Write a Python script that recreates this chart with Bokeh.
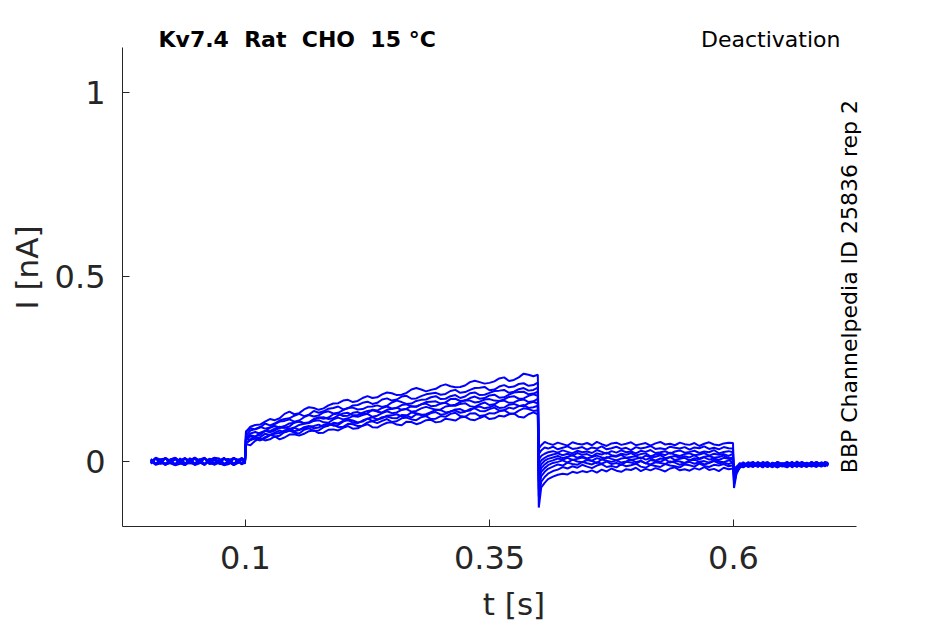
from bokeh.plotting import figure
from bokeh.models import Range1d, FixedTicker, Label, ColumnDataSource
from bokeh.embed import file_html
from bokeh.resources import INLINE

# ---- data: sample times (ms) and ten current sweeps (pA); plotted as s and nA ----
t_ms = ([3, 8, 13, 18, 23, 28, 33, 38, 43, 48, 53, 58, 63, 68, 73, 78, 83, 88, 93, 96, 99.5] +
        [100.5, 105, 110, 115, 120, 125, 130, 135, 140, 145, 150, 155, 160, 165, 170, 175, 180, 185,
         190, 195, 200, 205, 210, 215, 220, 225, 230, 235, 240, 245, 250, 255, 260, 265, 270, 275,
         280, 285, 290, 295, 300, 305, 310, 315, 320, 325, 330, 335, 340, 345, 350, 355, 360, 365,
         370, 375, 380, 385, 390, 395, 399.5] +
        [400.5, 403, 406.5, 410, 415, 420, 425, 430, 435, 440, 445, 450, 455, 460, 465, 470, 475,
         480, 485, 490, 495, 500, 505, 510, 515, 520, 525, 530, 535, 540, 545, 550, 555, 560, 565,
         570, 575, 580, 585, 590, 595, 599.5] +
        [600.5, 603, 606.5, 610, 615, 620, 625, 630, 635, 640, 645, 650, 655, 660, 665, 670, 675,
         680, 685, 690, 694, 697])

sweep_01 = ([4, -9, -5, 10, 2, -7, 8, -5, -3, 11, 0, -9, 6, 3, -2, -10, -7, 9, 4, -5, 0] +
            [47, 44, 56, 63, 57, 60, 68, 60, 65, 73, 74, 70, 75, 82, 84, 77, 78, 86, 87, 84,
             91, 96, 89, 90, 97, 101, 93, 92, 99, 105, 106, 100, 98, 108, 107, 101, 105, 112, 113, 106,
             108, 116, 114, 111, 119, 121, 114, 112, 118, 123, 115, 117, 124, 122, 128, 130, 121, 119, 128, 133,
             128] +
            [-125, -70, -58, -48, -41, -36, -33, -35, -28, -31, -26, -29, -24, -30, -22, -27, -19, -25, -28, -21,
             -23, -17, -26, -20, -24, -18, -22, -27, -19, -16, -24, -21, -25, -18, -22, -15, -23, -20, -26, -17,
             -21, -19] +
            [-20, -14, -9, -2, -12, -5, -15, -1, -8, -13, -3, -10, -6, -14, 0, -9, -4, -12, -2, -7, -11, -3])
sweep_02 = ([-2, 10, 5, -8, -4, 7, 0, -7, 9, -10, -5, 8, 2, -9, -3, 6, 7, -6, -2, 10, 3] +
            [50, 60, 63, 58, 66, 72, 68, 70, 80, 84, 78, 76, 86, 90, 83, 84, 93, 99, 100, 93,
             94, 102, 101, 96, 97, 106, 109, 104, 110, 115, 107, 109, 117, 119, 114, 112, 120, 123, 115, 116,
             123, 121, 129, 132, 123, 121, 130, 131, 123, 125, 131, 130, 136, 139, 131, 129, 138, 144, 142, 137,
             139] +
            [-95, -55, -42, -33, -26, -22, -15, -19, -13, -17, -9, -14, -18, -11, -7, -15, -12, -16, -8, -13,
             -10, -6, -14, -17, -9, -12, -15, -7, -11, -13, -16, -8, -10, -14, -6, -12, -15, -9, -11, -7,
             -13, -10] +
            [-25, -16, -4, -13, -6, -1, -12, -9, -15, -3, -7, -14, -2, -11, -8, -5, -13, -1, -10, -6, -4, -9])
sweep_03 = ([7, -6, 0, 9, -5, -10, 4, 7, -2, -8, 5, 10, -7, -4, 2, 8, 0, -10, -3, 6, 5] +
            [60, 68, 63, 66, 75, 72, 78, 84, 79, 83, 91, 86, 89, 95, 96, 100, 94, 97, 105, 103,
             110, 112, 105, 104, 111, 116, 110, 113, 120, 122, 118, 117, 126, 125, 119, 128, 127, 124, 131, 134,
             127, 129, 136, 138, 132, 135, 142, 144, 137, 136, 142, 146, 138, 139, 146, 143, 150, 153, 145, 147,
             151] +
            [-75, -40, -28, -20, -14, -8, -11, -3, -7, -9, -1, -5, -8, -2, -6, 0, -7, -4, -9, -1,
             -3, -6, 1, -5, -8, -2, -4, -7, 0, -3, -9, -5, -1, -6, -2, -8, -4, 1, -5, -3,
             -7, -2] +
            [-30, -18, -12, -5, -14, -9, -2, -13, -6, -11, -16, -4, -8, -1, -12, -7, -14, -3, -9, -12, -2, -6])
sweep_04 = ([-5, 8, 2, -10, 6, 9, -3, -8, 0, 7, -2, -9, 3, 10, 8, -6, -5, 8, 2, -8, -3] +
            [49, 58, 62, 57, 63, 71, 75, 77, 84, 89, 82, 85, 93, 96, 90, 92, 99, 103, 97, 99,
             108, 114, 111, 106, 108, 116, 120, 114, 117, 124, 125, 128, 122, 124, 133, 131, 126, 128, 134, 140,
             139, 133, 135, 141, 142, 136, 138, 147, 149, 144, 147, 152, 145, 146, 154, 156, 151, 150, 158, 162,
             157] +
            [-55, -28, -18, -10, -4, -1, 3, -3, 5, 0, -2, 4, 1, -4, 6, 2, -1, 3, -3, 0,
             5, -2, 2, -5, 4, 1, -1, 6, -3, 2, 0, -4, 3, 5, -1, 1, -3, 4, 0, -2,
             3, -1] +
            [-35, -20, -8, -15, -3, -10, -7, -16, -4, -12, -1, -9, -13, -5, -10, -15, -3, -8, -1, -11, -7, -4])
sweep_05 = ([0, 8, -6, -5, 3, -9, 2, 10, -5, -6, 7, -8, 0, 9, -3, -8, 2, -6, 5, 8, -2] +
            [64, 71, 68, 72, 83, 79, 84, 91, 93, 88, 92, 99, 102, 104, 110, 112, 106, 105, 114, 119,
             114, 117, 123, 121, 126, 129, 121, 124, 131, 136, 131, 133, 140, 142, 135, 137, 144, 148, 144, 140,
             141, 149, 151, 151, 156, 158, 150, 148, 155, 160, 153, 155, 163, 165, 159, 160, 166, 168, 161, 163,
             170] +
            [-40, -18, -8, -1, 3, 8, 5, 10, 4, 7, 11, 6, 2, 9, 5, 12, 7, 3, 8, 10,
             4, 7, 11, 5, 9, 2, 8, 6, 12, 4, 7, 10, 3, 9, 6, 11, 5, 8, 4, 10,
             7, 6] +
            [-40, -22, -14, -6, -10, -15, -2, -8, -12, -5, -14, -9, -3, -16, -6, -2, -11, -13, -5, -9, -1, -8])
sweep_06 = ([5, -6, 3, 8, -2, -10, -6, 8, 3, -8, 0, 10, -5, -6, 6, -8, 3, 9, -2, -6, 2] +
            [64, 76, 80, 75, 82, 91, 96, 92, 96, 103, 105, 108, 103, 106, 113, 119, 120, 115, 117, 125,
             130, 132, 125, 126, 132, 137, 139, 135, 133, 140, 143, 146, 140, 143, 150, 149, 155, 157, 150, 151,
             157, 159, 152, 154, 161, 166, 165, 160, 162, 168, 169, 165, 164, 168, 175, 177, 170, 171, 178, 182,
             178] +
            [-25, -8, 2, 7, 11, 15, 9, 13, 17, 10, 14, 8, 12, 16, 11, 9, 15, 13, 18, 10,
             12, 14, 8, 16, 11, 13, 17, 9, 12, 15, 10, 14, 11, 17, 8, 13, 15, 10, 12, 16,
             9, 11] +
            [-45, -24, -10, -16, -8, -3, -13, -6, -1, -14, -9, -12, -4, -7, -15, -3, -10, -6, -12, -2, -8, -5])
sweep_07 = ([-3, 9, 0, -8, 5, 10, -2, -10, 6, 8, -3, -6, 2, 10, -5, -8, 0, -10, 3, 8, -6] +
            [63, 58, 67, 78, 83, 82, 89, 94, 91, 95, 106, 109, 104, 106, 115, 119, 116, 119, 128, 130,
             123, 124, 132, 134, 128, 131, 140, 138, 145, 149, 143, 145, 153, 155, 149, 148, 155, 161, 162, 163,
             157, 160, 169, 170, 164, 165, 172, 176, 170, 172, 179, 181, 173, 174, 181, 187, 188, 189, 182, 184,
             189] +
            [-10, 3, 10, 15, 19, 22, 17, 21, 16, 23, 18, 20, 14, 22, 19, 24, 17, 15, 21, 18,
             23, 16, 20, 22, 14, 19, 21, 17, 24, 18, 15, 20, 22, 17, 19, 23, 16, 21, 18, 20,
             15, 21] +
            [-50, -26, -16, -9, -4, -13, -11, -2, -15, -7, -5, -12, -16, -6, -3, -11, -8, -14, -4, -9, -13, -6])
sweep_08 = ([2, -8, -3, 8, 0, -10, 5, -6, -5, 10, 3, -8, 8, -5, 0, 10, -3, -8, -2, 6, 3] +
            [71, 84, 88, 94, 89, 92, 101, 108, 110, 114, 108, 111, 120, 126, 122, 125, 133, 136, 130, 132,
             139, 145, 146, 141, 142, 148, 149, 152, 148, 151, 160, 165, 161, 156, 157, 164, 167, 168, 174, 177,
             169, 170, 177, 180, 172, 176, 185, 187, 180, 181, 186, 191, 192, 194, 186, 189, 196, 199, 192, 194,
             200] +
            [5, 15, 21, 25, 28, 24, 30, 26, 22, 29, 25, 27, 23, 31, 26, 21, 28, 24, 30, 25,
             27, 22, 29, 26, 31, 23, 25, 28, 21, 27, 30, 24, 26, 29, 23, 27, 25, 31, 22, 26,
             28, 25] +
            [-55, -28, -13, -7, -15, -9, -4, -12, -10, -16, -2, -6, -11, -9, -14, -1, -7, -10, -15, -4, -6, -11])
sweep_09 = ([-6, 8, 3, -8, -2, 10, 0, -10, 5, -5, 2, 9, -3, -8, 3, 8, -2, -8, 6, -6, 0] +
            [81, 90, 87, 92, 103, 98, 103, 111, 115, 117, 124, 129, 123, 127, 137, 132, 136, 143, 145, 149,
             141, 144, 152, 153, 159, 162, 156, 159, 168, 171, 165, 168, 176, 178, 170, 171, 177, 182, 184, 186,
             181, 183, 191, 194, 186, 188, 194, 199, 200, 202, 193, 195, 203, 207, 201, 203, 210, 212, 205, 207,
             214] +
            [20, 30, 38, 35, 40, 33, 37, 41, 34, 36, 39, 32, 38, 35, 41, 33, 36, 40, 34, 37,
             31, 39, 35, 38, 42, 34, 36, 33, 40, 37, 35, 39, 32, 38, 36, 41, 34, 37, 33, 39,
             36, 35] +
            [-62, -30, -17, -11, -6, -14, -8, -15, -3, -9, -13, -7, -1, -12, -5, -13, -10, -2, -8, -14, -5, -3])
sweep_10 = ([0, -8, 6, 8, -3, 6, -5, -10, 2, 10, -2, -8, 5, 8, -6, -8, 3, 10, 0, -6, 2] +
            [81, 94, 99, 100, 108, 115, 112, 117, 129, 135, 128, 131, 141, 147, 145, 140, 144, 152, 157, 158,
             165, 167, 161, 164, 172, 177, 172, 174, 182, 187, 185, 180, 181, 186, 195, 199, 195, 190, 194, 197,
             205, 209, 204, 201, 202, 206, 215, 219, 215, 211, 213, 217, 225, 228, 218, 221, 228, 238, 235, 231,
             235] +
            [35, 44, 53, 49, 45, 51, 47, 43, 52, 48, 46, 50, 44, 53, 47, 42, 49, 51, 45, 48,
             52, 44, 47, 50, 43, 49, 53, 46, 48, 44, 51, 47, 45, 50, 42, 48, 52, 46, 44, 49,
             51, 50] +
            [-72, -34, -15, -12, -2, -8, -14, -5, -11, -4, -16, -10, -7, -3, -12, -9, -15, -6, -3, -10, -7, -12])

sweeps = [sweep_01, sweep_02, sweep_03, sweep_04, sweep_05,
          sweep_06, sweep_07, sweep_08, sweep_09, sweep_10]

x_ticks = [0.1, 0.35, 0.6]
x_tick_labels = ["0.1", "0.35", "0.6"]
y_ticks = [0, 0.5, 1]
y_tick_labels = ["0", "0.5", "1"]

title_text = "Kv7.4\u00a0 Rat\u00a0 CHO\u00a0 15 °C"
protocol_text = "Deactivation"
source_text = "BBP Channelpedia ID 25836 rep 2"

for k, sw in enumerate(sweeps):
    if len(sw) != len(t_ms):
        raise ValueError("sweep %d has %d points, expected %d" % (k + 1, len(sw), len(t_ms)))

# ---- layout ----
FONT = "DejaVu Sans"
INK = "#262626"

X_AXIS = (-0.02602, 0.72602)   # drawn axis extents
Y_AXIS = (-0.1762, 1.1220)

p = figure(width=945, height=624, output_backend="svg", toolbar_location=None,
           x_range=Range1d(-0.02602, 0.77622), y_range=Range1d(-0.1762, 1.2276),
           min_border_left=122, min_border_right=40, min_border_top=8, min_border_bottom=98)
p.outline_line_color = None
p.background_fill_color = "white"
p.border_fill_color = "white"
p.xgrid.visible = False
p.ygrid.visible = False

t_s = [v / 1000.0 for v in t_ms]
for sw in sweeps:
    src = ColumnDataSource(dict(t=t_s, i=[v / 1000.0 for v in sw]))
    p.line("t", "i", source=src, line_color="#0000ff", line_width=2.0)

for ax in (p.xaxis[0], p.yaxis[0]):
    ax.axis_line_color = INK
    ax.axis_line_width = 1
    ax.major_tick_line_color = INK
    ax.major_tick_in = 7
    ax.major_tick_out = 0
    ax.minor_tick_line_color = None
    ax.major_label_text_font = FONT
    ax.major_label_text_color = INK
    ax.major_label_text_font_size = "32px"
    ax.axis_label_text_font = FONT
    ax.axis_label_text_color = INK
    ax.axis_label_text_font_size = "31px"
    ax.axis_label_text_font_style = "normal"

p.xaxis.bounds = X_AXIS
p.yaxis.bounds = Y_AXIS
p.xaxis.ticker = FixedTicker(ticks=x_ticks)
p.xaxis.major_label_overrides = dict(zip(x_ticks, x_tick_labels))
p.yaxis.ticker = FixedTicker(ticks=y_ticks)
p.yaxis.major_label_overrides = dict(zip(y_ticks, y_tick_labels))
p.xaxis.axis_label = "t [s]"
p.yaxis.axis_label = "I [nA]"
p.xaxis.major_label_standoff = 19
p.xaxis.axis_label_standoff = 14
p.yaxis.major_label_standoff = 17
p.yaxis.axis_label_standoff = 7

p.add_layout(Label(x=0.01086, y=1.1436, text=title_text, text_font=FONT,
                   text_font_size="22px", text_font_style="bold", text_color="black",
                   text_align="left", text_baseline="middle"))
p.add_layout(Label(x=0.7096, y=1.1436, text=protocol_text, text_font=FONT,
                   text_font_size="22px", text_color="black",
                   text_align="right", text_baseline="middle"))
p.add_layout(Label(x=0.7189, y=0.474, text=source_text, text_font=FONT,
                   text_font_size="22px", text_color="black", angle=1.5707963,
                   text_align="center", text_baseline="middle"))

open("out.html", "w").write(file_html(p, INLINE))
